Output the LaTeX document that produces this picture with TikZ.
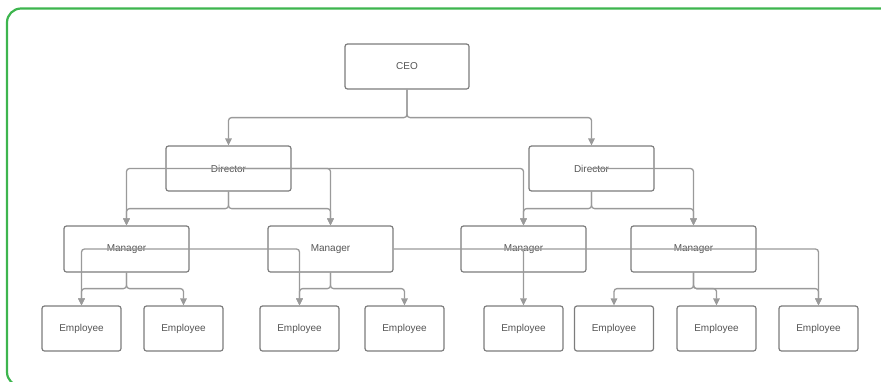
\documentclass[tikz,border=0pt]{standalone}
\usepackage{fontspec}
\setmainfont{Liberation Sans}
\usetikzlibrary{arrows.meta}
\definecolor{frameg}{HTML}{3DB54E}
\definecolor{boxline}{HTML}{7C7C7C}
\definecolor{conline}{HTML}{9A9A9A}
\definecolor{txt}{HTML}{555555}
\begin{document}
\begin{tikzpicture}[x=1pt,y=-1pt,
  box/.style={draw=boxline,line width=1.2pt,rounded corners=2.5pt,fill=white,
    inner sep=0pt,text=txt,font=\fontsize{10}{12}\selectfont},
  ceobox/.style={box,minimum width=124pt,minimum height=45pt},
  dirbox/.style={box,minimum width=125pt,minimum height=45pt},
  mgrbox/.style={box,minimum width=125pt,minimum height=46pt},
  empbox/.style={box,minimum width=79pt,minimum height=45pt},
  conn/.style={draw=conline,line width=1.3pt,rounded corners=3pt},
  arr/.style={conn,-{Triangle[length=7pt,width=6.5pt]}}]
\useasboundingbox (0,0) rectangle (881,381);
\begin{scope}
\clip (0,0) rectangle (881,381);
\draw[frameg,line width=2.2pt,rounded corners=14pt] (7,8.5) rectangle (905,386);
\end{scope}
% nodes
\node[ceobox] (ceo) at (407,66.5) {CEO};
\node[dirbox] (d1) at (228.5,168.5) {Director};
\node[dirbox] (d2) at (591.5,168.5) {Director};
\node[mgrbox] (m1) at (126.5,249) {Manager};
\node[mgrbox] (m2) at (330.5,249) {Manager};
\node[mgrbox] (m3) at (523.5,249) {Manager};
\node[mgrbox] (m4) at (693.5,249) {Manager};
\node[empbox] (e1) at (81.5,328.5) {Employee};
\node[empbox] (e2) at (183.5,328.5) {Employee};
\node[empbox] (e3) at (299.5,328.5) {Employee};
\node[empbox] (e4) at (404.5,328.5) {Employee};
\node[empbox] (e5) at (523.5,328.5) {Employee};
\node[empbox] (e6) at (614,328.5) {Employee};
\node[empbox] (e7) at (716.5,328.5) {Employee};
\node[empbox] (e8) at (818.5,328.5) {Employee};
% CEO to directors
\draw[arr] (ceo.south) -- ++(0,28) -| (d1.north);
\draw[arr] (ceo.south) -- ++(0,28) -| (d2.north);
% directors to managers (bus)
\draw[arr] (d1.south) -- ++(0,17) -| (m1.north);
\draw[arr] (d1.south) -- ++(0,17) -| (m2.north);
\draw[arr] (d2.south) -- ++(0,17) -| (m3.north);
\draw[arr] (d2.south) -- ++(0,17) -| (m4.north);
% directors through centers
\draw[arr] (d1.center) -| (m1.north);
\draw[arr] (d1.center) -| (m2.north);
\draw[arr] (d1.center) -| (m3.north);
\draw[arr] (d2.center) -| (m4.north);
% managers to employees (bus)
\draw[arr] (m1.south) -- ++(0,16) -| (e1.north);
\draw[arr] (m1.south) -- ++(0,16) -| (e2.north);
\draw[arr] (m2.south) -- ++(0,16) -| (e3.north);
\draw[arr] (m2.south) -- ++(0,16) -| (e4.north);
\draw[arr] (m4.south) -- ++(0,16) -| (e6.north);
\draw[arr] (m4.south) -- ++(0,16) -| (e7.north);
\draw[arr] (m4.south) -- ++(0,16) -| (e8.north);
% managers through centers
\draw[arr] (m1.center) -| (e1.north);
\draw[arr] (m1.center) -| (e3.north);
\draw[arr] (m2.east) -| (e5.north);
\draw[arr] (m3.center) -| (e8.north);
\end{tikzpicture}
\end{document}
